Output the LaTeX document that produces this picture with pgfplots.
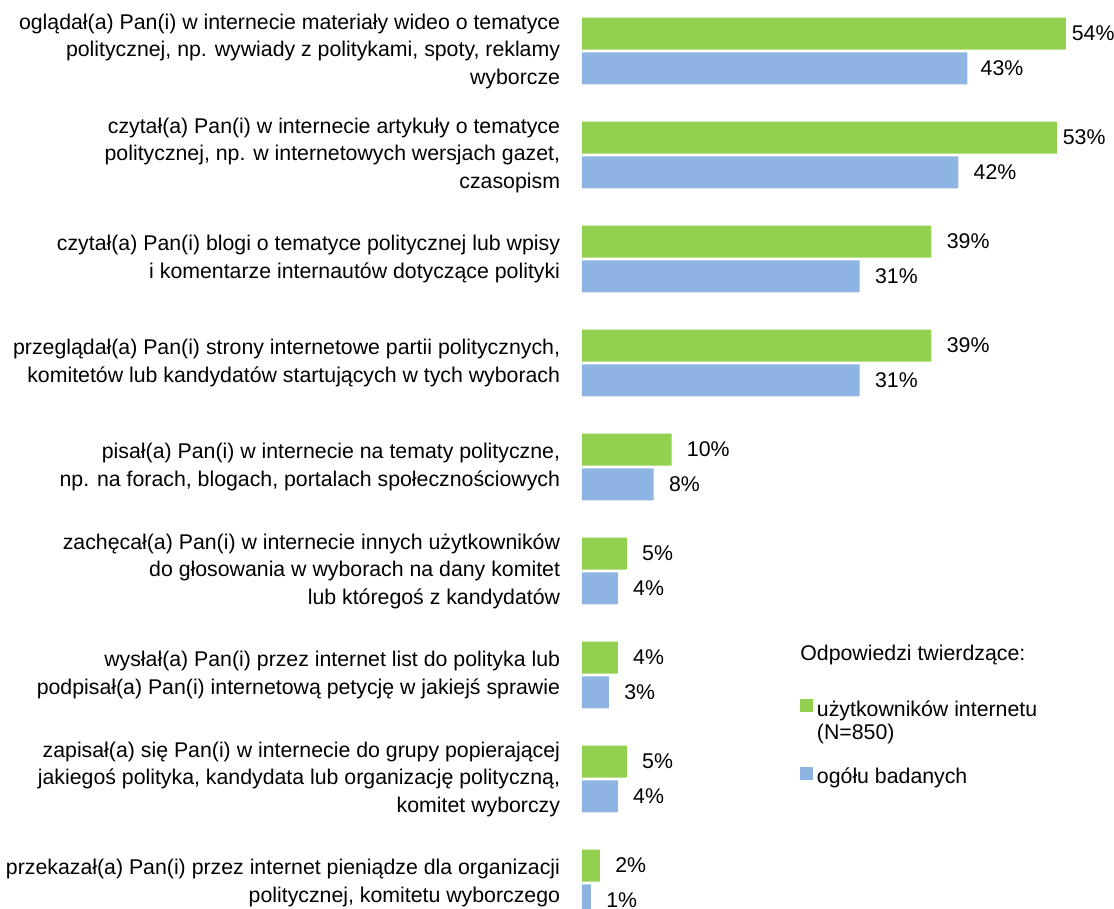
\documentclass[border=0pt]{standalone}
\usepackage{fontspec}
\setmainfont{Liberation Sans}
\usepackage{pgfplots}
\pgfplotsset{compat=1.18}
\usepackage{pgfplotstable}
\definecolor{cgreen}{HTML}{92D050}
\definecolor{cblue}{HTML}{8EB4E3}
\newcommand{\lf}{\fontsize{10.65}{13.75}\selectfont}

\pgfplotstableread{
y v off
-0.168 54 2.8
0.832 53 2.8
1.832 39 7.5
2.832 39 7.5
3.832 10 7.5
4.832 5 7.5
5.832 4 7.5
6.832 5 7.5
7.832 2 7.5
}\greendata

\pgfplotstableread{
y v off
0.168 43 6.5
1.168 42 7.5
2.168 31 7.5
3.168 31 7.5
4.168 8 7.5
5.168 4 7.5
6.168 3 7.5
7.168 4 7.5
8.168 1 7.5
}\bluedata

\begin{document}
\begin{tikzpicture}[font=\lf]
\begin{axis}[
  x=4.48pt, y=52pt, y dir=reverse,
  xmin=0, xmax=59.375, ymin=-0.4904, ymax=8.2404,
  axis line style={draw=none}, tick style={draw=none},
  xtick=\empty, ytick={0,...,8},
  yticklabels={
    {oglądał(a) Pan(i) w internecie materiały wideo o tematyce\\politycznej, np. wywiady z politykami, spoty, reklamy\\wyborcze},
    {czytał(a) Pan(i) w internecie artykuły o tematyce\\politycznej, np. w internetowych wersjach gazet,\\czasopism},
    {czytał(a) Pan(i) blogi o tematyce politycznej lub wpisy\\i komentarze internautów dotyczące polityki},
    {przeglądał(a) Pan(i) strony internetowe partii politycznych,\\komitetów lub kandydatów startujących w tych wyborach},
    {pisał(a) Pan(i) w internecie na tematy polityczne,\\np. na forach, blogach, portalach społecznościowych},
    {zachęcał(a) Pan(i) w internecie innych użytkowników\\do głosowania w wyborach na dany komitet\\lub któregoś z kandydatów},
    {wysłał(a) Pan(i) przez internet list do polityka lub\\podpisał(a) Pan(i) internetową petycję w jakiejś sprawie},
    {zapisał(a) się Pan(i) w internecie do grupy popierającej\\jakiegoś polityka, kandydata lub organizację polityczną,\\komitet wyborczy},
    {przekazał(a) Pan(i) przez internet pieniądze dla organizacji\\politycznej, komitetu wyborczego}
  },
  yticklabel style={align=right, inner sep=0pt, xshift=-6.5pt, font=\lf},
  xbar, bar width=16pt, bar shift=0pt,
  point meta=explicit,
  /pgf/number format/assume math mode=true,
  nodes near coords={\pgfmathprintnumber{\pgfplotspointmeta}\%},
  visualization depends on={\thisrow{off}\as\off},
  nodes near coords style={anchor=west, inner sep=0pt, xshift=\off pt, font=\lf, text=black},
  legend cell align=left,
  legend style={at={(axis cs:23.66,6.193)}, anchor=north west, draw=none, fill=none,
    row sep=12pt, column sep=2pt, nodes={inner sep=0pt, align=left, font=\fontsize{10.65}{11.5}\selectfont}},
]
\addplot[fill=cgreen, draw=none, legend image code/.code={\fill[cgreen] (0pt,5pt) rectangle (6.3pt,11.3pt);}]
  table[x=v, y=y, meta=v] {\greendata};
\addlegendentry{użytkowników internetu\\(N=850)}
\addplot[fill=cblue, draw=none, legend image code/.code={\fill[cblue] (0pt,-1.3pt) rectangle (6.3pt,5pt);}]
  table[x=v, y=y, meta=v] {\bluedata};
\addlegendentry{ogółu badanych}
\node[anchor=base west, inner sep=0pt, font=\lf] at (axis cs:24.33,5.856) {Odpowiedzi twierdzące:};
\coordinate (bbA) at (axis cs:-64.955,-0.4904);
\coordinate (bbB) at (axis cs:59.375,8.2404);
\end{axis}
\pgfresetboundingbox
\useasboundingbox (bbA) rectangle (bbB);
\end{tikzpicture}
\end{document}
